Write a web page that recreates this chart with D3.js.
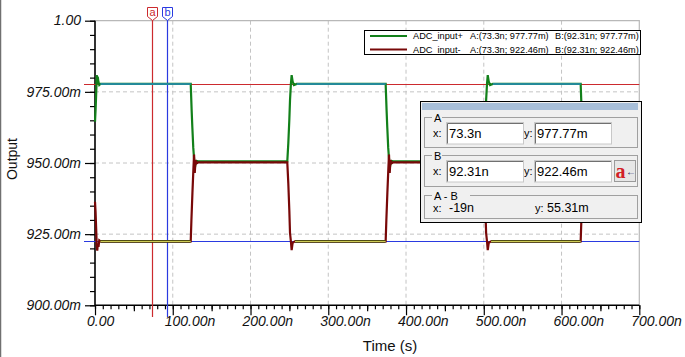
<!DOCTYPE html>
<html>
<head>
<meta charset="utf-8">
<script src="https://cdn.jsdelivr.net/npm/d3@7"></script>
<style>
  body { margin: 0; background: #fff; }
  svg { display: block; font-family: "Liberation Sans", Arial, sans-serif; }
</style>
</head>
<body>
<div id="container"></div>
<script>
// ADC_input+ samples: time (ns), output (mV)
let plusTime = [0, 0.8, 1.6, 2.3, 2.9, 3.5, 4.4, 5.5, 7,
  123.1, 124.3, 125.2, 126.4, 127.3, 128.2, 129.2, 131, 133,
  247.3, 248.6, 249.9, 250.8, 252, 252.9, 254.2, 255.9, 259.4,
  373.8, 375, 375.9, 377.1, 378, 378.9, 379.9, 381.7, 383.7,
  499.5, 500.8, 502.1, 503, 504.2, 505.1, 506.4, 508.1, 511.6,
  624.6, 625.8, 626.7, 627.9, 628.8, 629.7, 630.7, 632.5, 634.5,
  700];
let plusValue = [964.5, 969, 975, 980.9, 978.5, 980.3, 978.5, 977.4, 977.77,
  977.77, 968.5, 962.5, 955.3, 952, 948, 949.5, 950.7, 950.6,
  950.6, 956.9, 965.1, 972.1, 978, 980.9, 978.6, 977.4, 977.77,
  977.77, 968.5, 962.5, 955.3, 952, 948, 949.5, 950.7, 950.6,
  950.6, 956.9, 965.1, 972.1, 978, 980.9, 978.6, 977.4, 977.77,
  977.77, 968.5, 962.5, 955.3, 952, 948, 949.5, 950.7, 950.6,
  950.6];

// ADC_input- samples: time (ns), output (mV)
let minusTime = [0, 0.7, 1.5, 2.2, 2.9, 3.6, 4.5, 5.5, 7,
  123.1, 124, 125.3, 126.5, 127.4, 128.3, 129.3, 130.5, 132.5,
  247.3, 248.6, 249.9, 250.8, 252, 252.9, 254.2, 257.2,
  373.8, 374.7, 376, 377.2, 378.1, 379, 380, 381.2, 383.2,
  499.5, 500.8, 502.1, 503, 504.2, 505.1, 506.4, 509.4,
  624.6, 625.5, 626.8, 628, 628.9, 629.8, 630.8, 632, 634,
  700];
let minusValue = [936.4, 933, 927, 921, 919.2, 921.5, 920.5, 922.8, 922.46,
  922.46, 930, 939.5, 947.5, 953, 946.5, 951, 949.9, 950.2,
  950.2, 942.9, 933.5, 925.4, 922.3, 919.4, 922, 922.46,
  922.46, 930, 939.5, 947.5, 953, 946.5, 951, 949.9, 950.2,
  950.2, 942.9, 933.5, 925.4, 922.3, 919.4, 922, 922.46,
  922.46, 930, 939.5, 947.5, 953, 946.5, 951, 949.9, 950.2,
  950.2];

let plusHigh = 977.77;
let minusLow = 922.46;

let xTicks = [0, 100, 200, 300, 400, 500, 600, 700];
let xTickLabels = ["0.00", "100.00n", "200.00n", "300.00n", "400.00n", "500.00n", "600.00n", "700.00n"];
let yTicks = [900, 925, 950, 975, 1000];
let yTickLabels = ["900.00m", "925.00m", "950.00m", "975.00m", "1.00"];

// cursors a and b
let cursorNames = ["a", "b"];
let cursorTimes = [73.3, 92.31];
let cursorValues = [977.77, 922.46];

let legendNames = ["ADC_input+", "ADC_input-"];
let legendA = ["A:(73.3n; 977.77m)", "A:(73.3n; 922.46m)"];
let legendB = ["B:(92.31n; 977.77m)", "B:(92.31n; 922.46m)"];

let w = 685;
let h = 357;
let padLeft = 95, padRight = 639.3, padTop = 20.7, padBottom = 305.3;

let viz = d3.select("#container")
  .append("svg")
    .attr("width", w)
    .attr("height", h)
;

let xScale = d3.scaleLinear().domain([0, 700]).range([padLeft, padRight]);
let yScale = d3.scaleLinear().domain([900, 1000]).range([padBottom, padTop]);

// window edge on the left
viz.append("line")
  .attr("x1", 0.5).attr("x2", 0.5).attr("y1", 0).attr("y2", h)
  .attr("stroke", "#707070").attr("stroke-width", 1.5);

// grid
let grid = viz.append("g");
grid.selectAll(".vgrid").data(xTicks.slice(1, -1)).enter()
  .append("line")
    .attr("x1", d => xScale(d)).attr("x2", d => xScale(d))
    .attr("y1", padTop).attr("y2", padBottom)
    .attr("stroke", "#c4c4c4").attr("stroke-dasharray", "4,3");
grid.selectAll(".hgrid").data(yTicks.slice(1, -1)).enter()
  .append("line")
    .attr("x1", padLeft).attr("x2", padRight)
    .attr("y1", d => yScale(d)).attr("y2", d => yScale(d))
    .attr("stroke", "#c4c4c4").attr("stroke-dasharray", "4,3");
// top and right frame
grid.append("path")
  .attr("d", "M" + padLeft + "," + yScale(1000) + "H" + xScale(700) + "V" + padBottom)
  .attr("fill", "none").attr("stroke", "#b8b8b8").attr("stroke-width", 1.2);

// axes
let yAxisMinor = d3.axisLeft(yScale).tickValues(d3.range(900, 1001, 5)).tickSize(5).tickFormat("");
let yAxis = d3.axisLeft(yScale).tickValues(yTicks).tickSize(10)
  .tickFormat((d, i) => yTickLabels[i]);
let xAxisMinor = d3.axisBottom(xScale).tickValues(d3.range(0, 701, 10)).tickSize(4).tickFormat("");
let xAxisMid = d3.axisBottom(xScale).tickValues(d3.range(50, 701, 100)).tickSize(6).tickFormat("");
let xAxis = d3.axisBottom(xScale).tickValues(xTicks).tickSize(10)
  .tickFormat((d, i) => xTickLabels[i]);

function styleAxis(g) {
  g.select(".domain").remove();
  g.selectAll("line").attr("stroke", "#000").attr("stroke-width", 1.2);
  g.selectAll("text").attr("fill", "#111")
    .style("font-size", "14px").style("font-style", "italic")
    .style("font-family", "'Liberation Sans', Arial, sans-serif");
}

let yg = viz.append("g").attr("transform", "translate(" + padLeft + ",0)");
yg.append("g").call(yAxisMinor).call(styleAxis);
yg.append("g").call(yAxis).call(styleAxis);
yg.selectAll("text").attr("x", -14).attr("dy", "0.3em");

let xg = viz.append("g").attr("transform", "translate(0," + padBottom + ")");
xg.append("g").call(xAxisMinor).call(styleAxis);
xg.append("g").call(xAxisMid).call(styleAxis);
xg.append("g").call(xAxis).call(styleAxis);
xg.selectAll("text").attr("text-anchor", "start").attr("x", -8.5).attr("y", 21).attr("dy", 0);

// axis lines
viz.append("path")
  .attr("d", "M" + padLeft + "," + padTop + "V" + padBottom + "H" + padRight)
  .attr("fill", "none").attr("stroke", "#000").attr("stroke-width", 1.6);

// axis titles
viz.append("text")
  .attr("x", 390).attr("y", 351)
  .attr("text-anchor", "middle")
  .style("font-size", "15px").attr("fill", "#111")
  .text("Time (s)");
viz.append("text")
  .attr("transform", "translate(17,159) rotate(-90)")
  .attr("text-anchor", "middle")
  .style("font-size", "14px").attr("fill", "#111")
  .text("Output");

// cursors
let cursorColors = ["#cc2a2e", "#2a3ae0"];
let cursorGroup = viz.append("g");
cursorGroup.selectAll(".hcur").data(cursorValues).enter()
  .append("line")
    .attr("x1", 84).attr("x2", padRight)
    .attr("y1", d => Math.round(yScale(d)) + 0.5).attr("y2", d => Math.round(yScale(d)) + 0.5)
    .attr("stroke", (d, i) => cursorColors[i]).attr("stroke-width", 1.2);
cursorGroup.selectAll(".vcur").data(cursorTimes).enter()
  .append("line")
    .attr("x1", d => Math.round(xScale(d)) + 0.5).attr("x2", d => Math.round(xScale(d)) + 0.5)
    .attr("y1", 20).attr("y2", 317)
    .attr("stroke", (d, i) => cursorColors[i]).attr("stroke-width", 1.2);

// signals
let plusData = plusTime.map((t, i) => ({ t: t, v: plusValue[i] }));
let minusData = minusTime.map((t, i) => ({ t: t, v: minusValue[i] }));

let lineMaker = d3.line()
  .x(d => xScale(d.t))
  .y(d => yScale(d.v));

let graphGroup = viz.append("g").attr("class", "graphGroup");
graphGroup.append("path")
  .attr("d", lineMaker(plusData))
  .attr("fill", "none").attr("stroke", "#12801a").attr("stroke-width", 2.2);
graphGroup.append("path")
  .attr("d", lineMaker(minusData))
  .attr("fill", "none").attr("stroke", "#780808").attr("stroke-width", 2.2);

// flat parts drawn highlighted (as the simulator does at the cursor values)
let highMaker = d3.line()
  .defined(d => d.v === plusHigh)
  .x(d => xScale(d.t))
  .y(d => yScale(d.v));
let lowMaker = d3.line()
  .defined(d => d.v === minusLow)
  .x(d => xScale(d.t))
  .y(d => yScale(d.v));
graphGroup.append("path")
  .attr("d", highMaker(plusData))
  .attr("fill", "none").attr("stroke", "#238a98").attr("stroke-width", 2);
graphGroup.append("path")
  .attr("d", lowMaker(minusData))
  .attr("fill", "none").attr("stroke", "#3e3a08").attr("stroke-width", 2.6);
graphGroup.append("path")
  .attr("d", lowMaker(minusData))
  .attr("fill", "none").attr("stroke", "#e2e060").attr("stroke-width", 1);

// cursor flags
let flags = viz.selectAll(".flag").data(cursorTimes).enter()
  .append("g")
    .attr("transform", d => "translate(" + (Math.round(xScale(d)) + 0.5) + ",0)");
flags.append("path")
  .attr("d", "M-5,7.5H5V16.5L0,20.5L-5,16.5Z")
  .attr("fill", "#fff").attr("stroke", (d, i) => cursorColors[i]).attr("stroke-width", 1);
flags.append("text")
  .attr("x", 0).attr("y", 16)
  .attr("text-anchor", "middle")
  .style("font-size", "11px")
  .attr("fill", (d, i) => cursorColors[i])
  .text((d, i) => cursorNames[i]);

// legend
let legend = viz.append("g");
legend.append("rect")
  .attr("x", 364.5).attr("y", 30.5).attr("width", 276).attr("height", 24)
  .attr("fill", "#fff").attr("stroke", "#000").attr("stroke-width", 1);
let legendColors = ["#12801a", "#780808"];
let legendRows = legend.selectAll(".row").data(legendNames).enter()
  .append("g")
    .attr("transform", (d, i) => "translate(0," + (36 + i * 13.5) + ")");
legendRows.append("line")
  .attr("x1", 370).attr("x2", 407).attr("y1", 0).attr("y2", 0)
  .attr("stroke", (d, i) => legendColors[i]).attr("stroke-width", 2.2);
legendRows.append("text")
  .attr("x", 413).attr("y", 3.2)
  .style("font-size", "9.2px").attr("fill", "#000")
  .text(d => d);
legendRows.append("text")
  .attr("x", 470).attr("y", 3.2)
  .style("font-size", "9.2px").attr("fill", "#000")
  .text((d, i) => legendA[i]);
legendRows.append("text")
  .attr("x", 555).attr("y", 3.2)
  .style("font-size", "9.2px").attr("fill", "#000")
  .text((d, i) => legendB[i]);

// cursor readout window
let dlg = viz.append("g");
dlg.append("rect")
  .attr("x", 420.5).attr("y", 101.5).attr("width", 221).attr("height", 121)
  .attr("fill", "#f0f0f0").attr("stroke", "#000").attr("stroke-width", 1);
dlg.append("rect")
  .attr("x", 422).attr("y", 103).attr("width", 216).attr("height", 7)
  .attr("fill", "#a8bfd9");

let boxes = [
  { label: "A", y0: 117.5, y1: 147.5 },
  { label: "B", y0: 155.5, y1: 186.5 },
  { label: "A - B", y0: 195.5, y1: 218.5 }
];
boxes.forEach(function(b) {
  dlg.append("rect")
    .attr("x", 424.5).attr("y", b.y0).attr("width", 213).attr("height", b.y1 - b.y0)
    .attr("fill", "none").attr("stroke", "#a0a0a0").attr("stroke-width", 1);
  let tw = b.label.length * 7 + 3;
  dlg.append("rect")
    .attr("x", 432).attr("y", b.y0 - 2).attr("width", tw).attr("height", 4)
    .attr("fill", "#f0f0f0");
  dlg.append("text")
    .attr("x", 434).attr("y", b.y0 + 4.5)
    .style("font-size", "11px").attr("fill", "#000")
    .text(b.label);
});

let fieldText = [["73.3n", "977.77m"], ["92.31n", "922.46m"]];
let fieldTops = [122.5, 160.5];
fieldTops.forEach(function(ty, r) {
  dlg.append("text").attr("x", 433).attr("y", ty + 14)
    .style("font-size", "11px").attr("fill", "#000").text("x:");
  dlg.append("text").attr("x", 524).attr("y", ty + 14)
    .style("font-size", "11px").attr("fill", "#000").text("y:");
  [446, 534].forEach(function(fx, c) {
    dlg.append("rect")
      .attr("x", fx + 0.5).attr("y", ty).attr("width", 77).attr("height", 21.5)
      .attr("fill", "#fff").attr("stroke", "#c8c8c8").attr("stroke-width", 1);
    dlg.append("path")
      .attr("d", "M" + (fx + 1.5) + "," + (ty + 21) + "V" + (ty + 1) + "H" + (fx + 77))
      .attr("fill", "none").attr("stroke", "#707070").attr("stroke-width", 1);
    dlg.append("text")
      .attr("x", fx + 3).attr("y", ty + 15.5)
      .style("font-size", "13px").attr("fill", "#000")
      .text(fieldText[r][c]);
  });
});

// "a<-" button
dlg.append("rect")
  .attr("x", 614.5).attr("y", 160.5).attr("width", 21).attr("height", 21)
  .attr("fill", "#e6e6e6").attr("stroke", "#9a9a9a").attr("stroke-width", 1);
dlg.append("text")
  .attr("x", 615.5).attr("y", 178)
  .style("font-family", "'Liberation Serif', 'Times New Roman', serif")
  .style("font-size", "20px").style("font-weight", "bold")
  .attr("fill", "#d21e28").text("a");
dlg.append("text")
  .attr("x", 626).attr("y", 175)
  .style("font-size", "10px").style("font-weight", "bold")
  .attr("fill", "#101060").text("←");

// A - B differences
let diffLabels = ["x:", "y:"];
let diffValues = ["-19n", "55.31m"];
let diffX = [433, 535];
let diffValueX = [449, 547];
diffLabels.forEach(function(lab, i) {
  dlg.append("text").attr("x", diffX[i]).attr("y", 212)
    .style("font-size", "11px").attr("fill", "#000").text(lab);
  dlg.append("text").attr("x", diffValueX[i]).attr("y", 212)
    .style("font-size", "12.5px").attr("fill", "#000").text(diffValues[i]);
});
</script>
</body>
</html>
